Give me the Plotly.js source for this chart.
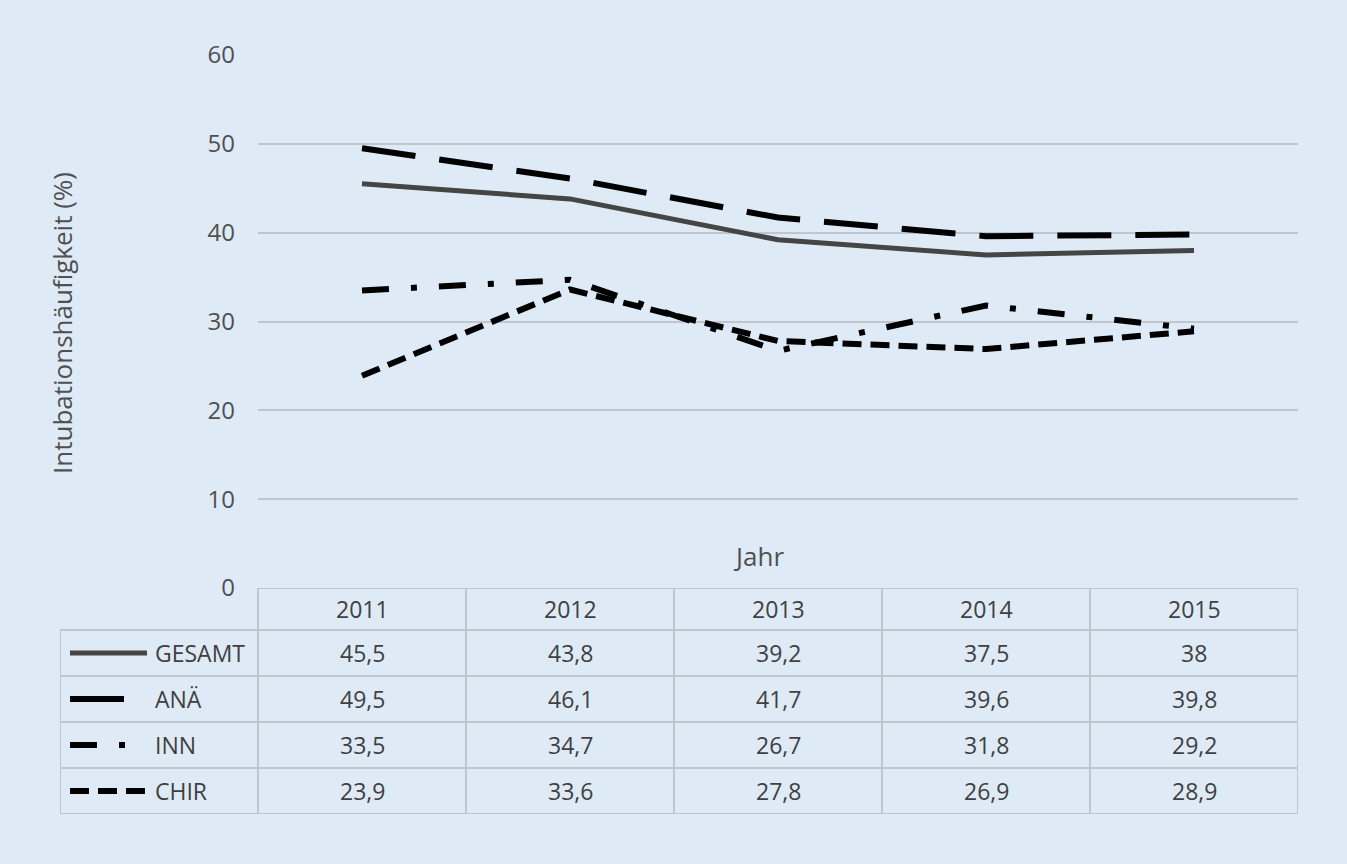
<!DOCTYPE html>
<html>
<head>
<meta charset="utf-8">
<script src="https://cdn.plot.ly/plotly-3.0.1.min.js"></script>
<style>html,body{margin:0;padding:0;background:#DEEBF7;}#chart{width:1347px;height:864px;}</style>
</head>
<body>
<div id="chart"></div>
<script>
// ---- data ----
var years = ['2011', '2012', '2013', '2014', '2015'];
var seriesNames = ['GESAMT', 'ANÄ', 'INN', 'CHIR'];
var gesamt = [45.5, 43.8, 39.2, 37.5, 38];
var anae = [49.5, 46.1, 41.7, 39.6, 39.8];
var inn = [33.5, 34.7, 26.7, 31.8, 29.2];
var chir = [23.9, 33.6, 27.8, 26.9, 28.9];
var yTitle = 'Intubationshäufigkeit (%)';
var xTitle = 'Jahr';

// ---- styles ----
var FONT = '"Open Sans", Lato, sans-serif';
var FS = 24;
var TXT = '#404040';
var GRID = '#BFC6CE';
var BG = '#DEEBF7';
var styles = [
  {color: '#454545', width: 5, dash: 'solid'},
  {color: '#000000', width: 6, dash: '54px,24px'},
  {color: '#000000', width: 6, dash: '27px,22px,6px,22px'},
  {color: '#000000', width: 6, dash: '19px,9px'}
];
var allSeries = [gesamt, anae, inn, chir];

// ---- layout geometry (pixels) ----
var W = 1347, H = 864;
var mL = 60, mR = 49, mT = 55, mB = 50;
var plotW = W - mL - mR;          // 1238
var plotH = H - mT - mB;          // 759
var legendColW = 198;             // width of legend column
var colW = (plotW - legendColW) / years.length; // 208
var tableH = 226;                 // table height
var headerH = 42, rowH = 46;
var tableFrac = tableH / plotH;
var x2min = -0.5 - legendColW / colW;
var headerTop = -0.5 - headerH / rowH;
var headerMid = -0.5 - headerH / rowH / 2;

var traces = [];
for (var i = 0; i < allSeries.length; i++) {
  traces.push({
    type: 'scatter', mode: 'lines', x: years, y: allSeries[i],
    name: seriesNames[i], xaxis: 'x', yaxis: 'y', showlegend: false,
    line: {color: styles[i].color, width: styles[i].width, dash: styles[i].dash},
    hoverinfo: 'skip'
  });
}
// legend samples inside table
var sampleX0 = x2min + 10 / colW;
var sampleLen = [77, 57, 57, 80];
for (var i = 0; i < allSeries.length; i++) {
  traces.push({
    type: 'scatter', mode: 'lines', x: [sampleX0, sampleX0 + sampleLen[i] / colW], y: [i, i],
    xaxis: 'x2', yaxis: 'y2', showlegend: false, hoverinfo: 'skip',
    line: {color: styles[i].color, width: styles[i].width, dash: styles[i].dash}
  });
}

var shapes = [];
var lineStyle = {color: GRID, width: 2};
shapes.push({type: 'line', xref: 'x2', yref: 'y2', x0: -0.5, x1: years.length - 0.5, y0: headerTop, y1: headerTop, line: lineStyle, layer: 'below'});
for (var r = 0; r <= seriesNames.length; r++) {
  shapes.push({type: 'line', xref: 'x2', yref: 'y2', x0: x2min, x1: years.length - 0.5, y0: r - 0.5, y1: r - 0.5, line: lineStyle, layer: 'below'});
}
shapes.push({type: 'line', xref: 'x2', yref: 'y2', x0: x2min, x1: x2min, y0: -0.5, y1: seriesNames.length - 0.5, line: lineStyle, layer: 'below'});
for (var c = 0; c <= years.length; c++) {
  shapes.push({type: 'line', xref: 'x2', yref: 'y2', x0: c - 0.5, x1: c - 0.5, y0: headerTop, y1: seriesNames.length - 0.5, line: lineStyle, layer: 'below'});
}

var annotations = [];
var fmt = function (v) { return String(v).replace('.', ','); };
for (var c = 0; c < years.length; c++) {
  annotations.push({xref: 'x2', yref: 'y2', x: c, y: headerMid, text: years[c], showarrow: false,
    font: {family: FONT, size: FS - 1, color: TXT}, xanchor: 'center', yanchor: 'middle'});
  for (var r = 0; r < allSeries.length; r++) {
    annotations.push({xref: 'x2', yref: 'y2', x: c, y: r, text: fmt(allSeries[r][c]), showarrow: false,
      font: {family: FONT, size: FS - 1, color: TXT}, xanchor: 'center', yanchor: 'middle'});
  }
}
for (var r = 0; r < seriesNames.length; r++) {
  annotations.push({xref: 'x2', yref: 'y2', x: x2min + 93 / colW, y: r, text: seriesNames[r], showarrow: false,
    font: {family: FONT, size: FS - 1, color: TXT}, xanchor: 'left', yanchor: 'middle'});
}
annotations.push({xref: 'paper', yref: 'paper', x: (62 - mL) / plotW, y: (H - mB - 323) / plotH, text: yTitle,
  textangle: -90, showarrow: false, font: {family: FONT, size: FS + 2, color: '#505050'}, xanchor: 'center', yanchor: 'middle'});
annotations.push({xref: 'paper', yref: 'paper', x: (758 - mL) / plotW, y: (H - mB - 556) / plotH, text: xTitle,
  showarrow: false, font: {family: FONT, size: FS + 2, color: '#505050'}, xanchor: 'center', yanchor: 'middle'});

var layout = {
  width: W, height: H,
  margin: {l: mL, r: mR, t: mT, b: mB},
  paper_bgcolor: BG, plot_bgcolor: 'rgba(0,0,0,0)',
  showlegend: false,
  font: {family: FONT, size: FS, color: TXT},
  xaxis: {type: 'category', domain: [legendColW / plotW, 1], range: [-0.5, years.length - 0.5],
    showticklabels: false, showgrid: false, zeroline: false, showline: false, ticks: '', anchor: 'y', fixedrange: true},
  yaxis: {domain: [tableFrac, 1], range: [0, 60], dtick: 10, tick0: 0, showgrid: true, gridcolor: GRID, gridwidth: 2,
    zeroline: false, showline: false, ticks: '', ticklabelstandoff: 22, anchor: 'x',
    tickfont: {family: FONT, size: FS, color: '#505050'}, fixedrange: true},
  xaxis2: {domain: [0, 1], range: [x2min, years.length - 0.5], visible: false, anchor: 'y2', fixedrange: true},
  yaxis2: {domain: [0, tableFrac], range: [seriesNames.length - 0.5, headerTop], visible: false, anchor: 'x2', fixedrange: true},
  shapes: shapes,
  annotations: annotations
};

Plotly.newPlot('chart', traces, layout, {displayModeBar: false, staticPlot: true});
</script>
</body>
</html>
